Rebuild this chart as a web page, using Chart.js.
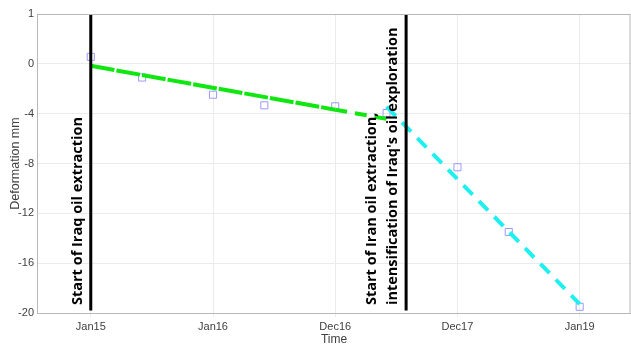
<!DOCTYPE html>
<html lang="en">
<head>
    <meta charset="UTF-8">
    <title>Deformation over time</title>
    <script src="https://cdn.jsdelivr.net/npm/chart.js"></script>
    <style>
        html, body { margin: 0; padding: 0; background: #fff; overflow: hidden; }
        canvas { display: block; }
    </style>
</head>
<body>
    <canvas id="defChart" width="631" height="345"></canvas>
    <script>
        // x in years from Jan 2015, tick labels as on the original axis
        var xTickLabels = ['Jan15', 'Jan16', 'Dec16', 'Dec17', 'Jan19'];
        var yTickValues = [4, 0, -4, -8, -12, -16, -20];
        var yTickLabels = ['1', '0', '-4', '-8', '-12', '-16', '-20'];

        // observed deformation (mm)
        var obsX = [0, 0.42, 1, 1.42, 2, 2.42, 3, 3.42, 4];
        var obsY = [0.56, -1.1, -2.48, -3.33, -3.41, -3.95, -8.3, -13.5, -19.5];

        // fitted trends
        var trend1X = [0, 2, 2.42];
        var trend1Y = [-0.16, -3.68, -4.42];
        var trend2X = [2.42, 4];
        var trend2Y = [-3.44, -19.28];

        // events
        var eventX = [0, 2.58];
        var eventText = [
            ['Start of Iraq oil extraction'],
            ['Start of Iran oil extraction,', "intensification of Iraq's oil exploration"]
        ];

        function pts(xs, ys) {
            return xs.map(function (x, i) { return { x: x, y: ys[i] }; });
        }

        var datasets = [];
        eventX.forEach(function (x) {
            datasets.push({
                data: [{ x: x, y: 4 }, { x: x, y: -19.8 }],
                borderColor: '#000', borderWidth: 3, pointRadius: 0, showLine: true
            });
        });
        datasets.push({
            data: pts(trend1X.slice(0, 2), trend1Y.slice(0, 2)),
            borderColor: '#10e610', borderWidth: 4, borderDash: [24, 2],
            pointRadius: 0, showLine: true
        });
        datasets.push({
            data: pts(trend1X.slice(1), trend1Y.slice(1)),
            borderColor: '#10e610', borderWidth: 4, borderDash: [12, 8],
            pointRadius: 0, showLine: true
        });
        datasets.push({
            data: pts(trend2X, trend2Y),
            borderColor: '#1ef0f0', borderWidth: 4, borderDash: [13, 9],
            pointRadius: 0, showLine: true
        });
        datasets.push({
            data: pts(obsX, obsY),
            borderColor: '#9a9aff', backgroundColor: 'rgba(0,0,0,0)',
            pointStyle: 'rect', pointRadius: 5, pointBorderWidth: 1, showLine: false
        });

        var eventLabels = {
            id: 'eventLabels',
            afterDatasetsDraw: function (chart) {
                var ctx = chart.ctx;
                var xs = chart.scales.x;
                ctx.save();
                ctx.fillStyle = '#000';
                ctx.font = 'bold 14.5px "Open Sans", sans-serif';
                ctx.textAlign = 'left';
                ctx.textBaseline = 'middle';
                eventX.forEach(function (x, i) {
                    var px = xs.getPixelForValue(x);
                    var lines = eventText[i];
                    lines.forEach(function (t, j) {
                        var off = (j - lines.length + 1) * 21 - 13;
                        ctx.save();
                        ctx.translate(px + off, 305);
                        ctx.rotate(-Math.PI / 2);
                        ctx.fillText(t, 0, 0);
                        ctx.restore();
                    });
                });
                ctx.restore();
            }
        };

        var frame = {
            id: 'frame',
            afterDraw: function (chart) {
                var a = chart.chartArea, ctx = chart.ctx;
                ctx.save();
                ctx.strokeStyle = '#b8b8b8';
                ctx.lineWidth = 1;
                ctx.strokeRect(a.left + 0.5, a.top + 0.5, a.right - a.left - 1.5, a.bottom - a.top);
                ctx.restore();
            }
        };

        new Chart(document.getElementById('defChart'), {
            type: 'scatter',
            data: { datasets: datasets },
            plugins: [eventLabels, frame],
            options: {
                responsive: false,
                animation: false,
                layout: { autoPadding: false, padding: { top: 14, right: 0, left: 0, bottom: 0 } },
                plugins: { legend: { display: false }, tooltip: { enabled: false } },
                scales: {
                    x: {
                        type: 'linear', min: -0.44, max: 4.42,
                        afterBuildTicks: function (s) {
                            s.ticks = xTickLabels.map(function (l, i) { return { value: i }; });
                        },
                        afterFit: function (s) {
                            s.height = 32;
                            s.paddingLeft = 0;
                            s.paddingRight = 0;
                        },
                        ticks: {
                            color: '#404040', font: { family: 'Arial, "Liberation Sans"', size: 11 },
                            padding: 3, maxRotation: 0,
                            callback: function (v) { return xTickLabels[v]; }
                        },
                        grid: { color: '#ebebeb', tickLength: 4 },
                        border: { color: '#b0b0b0' },
                        title: {
                            display: true, text: 'Time', color: '#404040', padding: { top: 2, bottom: -1.5 },
                            font: { family: 'Arial, "Liberation Sans"', size: 12 }
                        }
                    },
                    y: {
                        type: 'linear', min: -20, max: 4,
                        afterBuildTicks: function (s) {
                            s.ticks = yTickValues.map(function (v) { return { value: v }; });
                        },
                        afterFit: function (s) { s.width = 37; },
                        ticks: {
                            color: '#404040', font: { family: 'Arial, "Liberation Sans"', size: 11 },
                            padding: 3,
                            callback: function (v) { return yTickLabels[yTickValues.indexOf(v)]; }
                        },
                        grid: { color: '#ebebeb', drawTicks: false },
                        border: { color: '#b0b0b0' },
                        title: {
                            display: true, text: 'Deformation mm', color: '#404040',
                            padding: { top: 8, bottom: 0 },
                            font: { family: 'Arial, "Liberation Sans"', size: 12.5 }
                        }
                    }
                }
            }
        });
    </script>
</body>
</html>
